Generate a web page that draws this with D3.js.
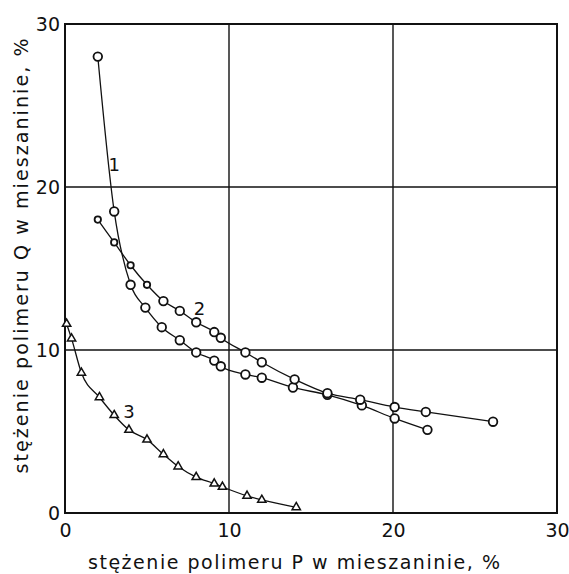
<!DOCTYPE html>
<html><head><meta charset="utf-8">
<script src="https://cdn.jsdelivr.net/npm/d3@7"></script>
<style>body{margin:0;background:#fff}svg{display:block}text{font-family:"DejaVu Sans",sans-serif;fill:#111}</style>
</head><body><svg id="c" width="569" height="574"></svg>
<script>
const xTicks = [0, 10, 20, 30];
const yTicks = [0, 10, 20, 30];
const xTitle = "stężenie polimeru P w mieszaninie, %";
const yTitle = "stężenie polimeru Q w mieszaninie, %";
const curveLabels = ["1", "2", "3"];
const labelPos = [[3.0, 21.0], [8.2, 12.15], [3.9, 5.8]];

const s1x = [2, 3, 4, 4.9, 5.9, 7.0, 8.0, 9.1, 9.5, 11.0, 12.0, 13.9, 16.0, 18.1, 20.1, 22.1];
const s1y = [28.0, 18.5, 14.0, 12.6, 11.4, 10.6, 9.85, 9.35, 9.0, 8.5, 8.3, 7.7, 7.25, 6.6, 5.8, 5.1];
const s2x = [2.0, 3.0, 4.0, 5.0, 6.0, 7.0, 8.0, 9.1, 9.5, 11.0, 12.0, 14.0, 16.0, 18.0, 20.1, 22.0, 26.1];
const s2y = [18.0, 16.6, 15.2, 14.0, 13.0, 12.4, 11.7, 11.1, 10.75, 9.85, 9.25, 8.2, 7.35, 6.95, 6.5, 6.2, 5.6];
const s3x = [0.1, 0.4, 1.0, 2.1, 3.0, 3.9, 5.0, 6.0, 6.9, 8.0, 9.1, 9.6, 11.1, 12.0, 14.1];
const s3y = [11.6, 10.7, 8.6, 7.1, 6.0, 5.1, 4.5, 3.6, 2.85, 2.2, 1.8, 1.6, 1.05, 0.8, 0.35];

const svg = d3.select("#c");
const x = d3.scaleLinear().domain([0, 30]).range([65, 557]);
const y = d3.scaleLinear().domain([0, 30]).range([513, 24]);
const g = svg.append("g");

// grid
g.selectAll(".gx").data(xTicks.slice(1, -1)).enter().append("line")
  .attr("x1", d => x(d)).attr("x2", d => x(d)).attr("y1", y(0)).attr("y2", y(30))
  .attr("stroke", "#111").attr("stroke-width", 1.4);
g.selectAll(".gy").data(yTicks.slice(1, -1)).enter().append("line")
  .attr("y1", d => y(d)).attr("y2", d => y(d)).attr("x1", x(0)).attr("x2", x(30))
  .attr("stroke", "#111").attr("stroke-width", 1.4);
g.append("rect").attr("x", x(0)).attr("y", y(30)).attr("width", x(30) - x(0)).attr("height", y(0) - y(30))
  .attr("fill", "none").attr("stroke", "#111").attr("stroke-width", 2);

// axes tick labels via d3 axes
const xa = g.append("g").attr("transform", `translate(0,${y(0)})`)
  .call(d3.axisBottom(x).tickValues(xTicks).tickSize(0).tickPadding(11));
const ya = g.append("g").attr("transform", `translate(${x(0)},0)`)
  .call(d3.axisLeft(y).tickValues(yTicks).tickSize(0).tickPadding(5));
[xa, ya].forEach(a => { a.select(".domain").remove(); a.selectAll("text").style("font-size", "19px").style("font-family", "DejaVu Sans, sans-serif").attr("fill", "#111"); });

// titles
svg.append("text").attr("x", 294).attr("y", 569).attr("text-anchor", "middle")
  .style("font-size", "19px").attr("textLength", 412).attr("lengthAdjust", "spacing").text(xTitle);
svg.append("text").attr("transform", "translate(28,256) rotate(-90)").attr("text-anchor", "middle")
  .style("font-size", "19px").attr("textLength", 435).attr("lengthAdjust", "spacing").text(yTitle);

const series = [
  { xs: s1x, ys: s1y, shape: "circle" },
  { xs: s2x, ys: s2y, shape: "circle" },
  { xs: s3x, ys: s3y, shape: "tri" }
];
const line = d3.line().x(d => x(d[0])).y(d => y(d[1])).curve(d3.curveMonotoneX);
series.forEach((s, si) => {
  const pts = s.xs.map((v, i) => [v, s.ys[i]]);
  g.append("path").attr("d", line(pts)).attr("fill", "none").attr("stroke", "#111").attr("stroke-width", 1.3);
});
series.forEach((s, si) => {
  const pts = s.xs.map((v, i) => [v, s.ys[i]]);
  if (s.shape === "circle") {
    g.selectAll(null).data(pts).enter().append("circle")
      .attr("cx", d => x(d[0])).attr("cy", d => y(d[1]))
      .attr("r", (d, i) => (si === 1 && i < 4) ? 3.2 : 4.3)
      .attr("fill", "#fff").attr("stroke", "#111").attr("stroke-width", 1.8);
  } else {
    const tri = d3.symbol().type(d3.symbolTriangle).size(30);
    g.selectAll(null).data(pts).enter().append("path")
      .attr("d", tri).attr("transform", d => `translate(${x(d[0])},${y(d[1])})`)
      .attr("fill", "#fff").attr("stroke", "#111").attr("stroke-width", 1.5);
  }
});
// curve labels
g.selectAll(".cl").data(curveLabels).enter().append("text")
  .attr("x", (d, i) => x(labelPos[i][0])).attr("y", (d, i) => y(labelPos[i][1]))
  .attr("text-anchor", "middle").style("font-size", "18px").text(d => d);
</script></body></html>
